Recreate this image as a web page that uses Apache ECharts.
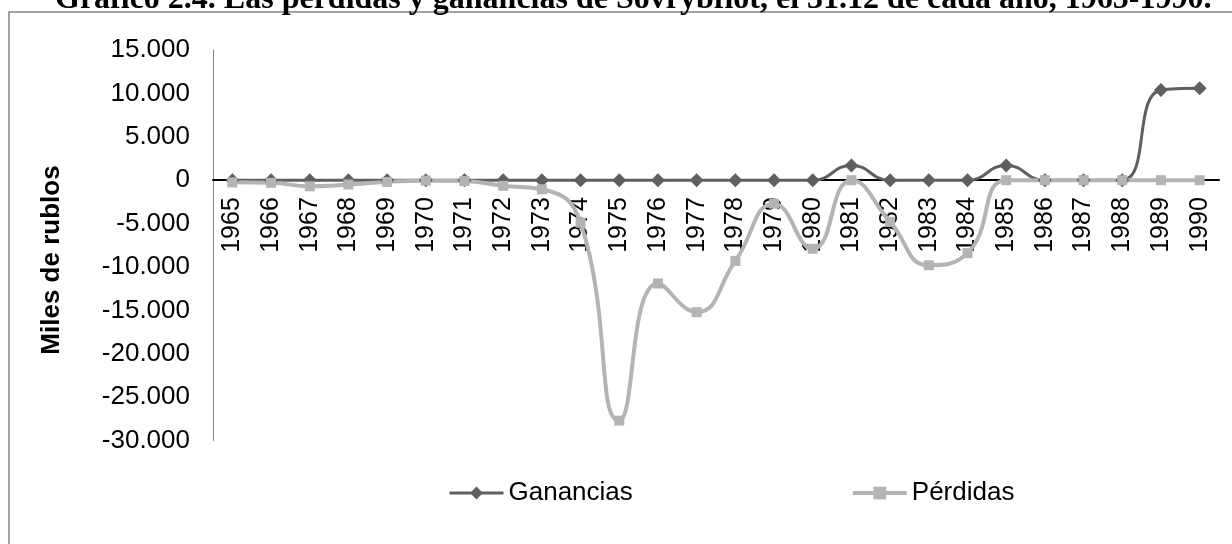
<!DOCTYPE html>
<html>
<head>
<meta charset="utf-8">
<title>Gráfico 2.4</title>
<script src="https://cdn.jsdelivr.net/npm/echarts@6/dist/echarts.min.js"></script>
<style>
    html, body { margin: 0; padding: 0; background: #fff; }
    #chart { width: 1232px; height: 544px; }
</style>
</head>
<body>
<div id="chart"></div>
<script>
// años (eje x)
var years = ["1965", "1966", "1967", "1968", "1969", "1970", "1971", "1972", "1973", "1974",
    "1975", "1976", "1977", "1978", "1979", "1980", "1981", "1982", "1983", "1984",
    "1985", "1986", "1987", "1988", "1989", "1990"];
// miles de rublos
var ganancias = [0, 0, 0, 0, 0, 0, 0, 0, 0, 0,
    0, 0, 0, 0, 0, 0, 1700, 0, 0, 0,
    1700, 0, 0, 0, 10400, 10600];
var perdidas = [-250, -300, -700, -500, -200, -50, -100, -650, -1050, -4900,
    -27700, -11900, -15200, -9300, -2700, -7900, 0, -4800, -9800, -8400,
    0, 0, 0, 0, 0, 0];
var yTicks = { min: -30000, max: 15000, step: 5000 };

var titleText = "Gráfico 2.4. Las pérdidas y ganancias de Sovrybflot, el 31.12 de cada año, 1965-1990.";
var seriesNames = ["Ganancias", "Pérdidas"];

var sans = "Liberation Sans";
var darkGray = "#5f5f5f", lightGray = "#b4b4b4";

// área de trazado
var plotTop = 50, plotBottom = 103.4, chartH = 544;
var plotH = chartH - plotTop - plotBottom;
// distancia del borde inferior a la línea del cero (el eje x va sobre el cero)
var zeroOffset = plotH * (0 - yTicks.min) / (yTicks.max - yTicks.min);

// 15000 -> "15.000"
function fmt(v) {
    var s = String(Math.abs(v)).replace(/\B(?=(\d{3})+(?!\d))/g, ".");
    return (v < 0 ? "-" : "") + s;
}

var chart = echarts.init(document.getElementById("chart"), null, { renderer: "canvas" });

var option = {
    backgroundColor: "#fff",
    animation: false,
    title: {
        text: titleText,
        left: 55,
        top: -16,
        padding: 0,
        textStyle: {
            fontFamily: "Liberation Serif",
            fontWeight: "bold",
            fontSize: 32,
            color: "#000"
        }
    },
    legend: {
        data: [
            { name: seriesNames[0], lineStyle: { width: 3, color: darkGray } },
            { name: seriesNames[1], lineStyle: { width: 4, color: lightGray } }
        ],
        left: 448,
        top: 480,
        padding: 0,
        itemWidth: 54,
        itemHeight: 16,
        itemGap: 218,
        textStyle: {
            fontFamily: sans,
            fontSize: 26,
            color: "#000"
        }
    },
    grid: {
        left: 213,
        right: 13,
        top: plotTop,
        bottom: plotBottom,
        containLabel: false
    },
    xAxis: {
        type: "category",
        data: years,
        boundaryGap: true,
        position: "bottom",
        offset: -zeroOffset,
        axisLine: {
            onZero: false,
            lineStyle: { color: "#000", width: 2 }
        },
        axisTick: { show: false },
        axisLabel: {
            rotate: 90,
            margin: 17,
            fontFamily: sans,
            fontSize: 25,
            color: "#000"
        },
        splitLine: { show: false }
    },
    yAxis: {
        type: "value",
        min: yTicks.min,
        max: yTicks.max,
        interval: yTicks.step,
        axisLine: {
            show: true,
            lineStyle: { color: "#868686", width: 1 }
        },
        axisTick: { show: false },
        axisLabel: {
            margin: 23,
            fontFamily: sans,
            fontSize: 26,
            color: "#000",
            formatter: fmt
        },
        splitLine: { show: false }
    },
    graphic: [{
        // marco del gráfico
        type: "rect",
        shape: { x: 9, y: 12, width: 1240, height: 600 },
        style: { fill: "none", stroke: "#868686", lineWidth: 1.5 },
        z: -1
    }, {
        type: "text",
        x: 52,
        y: 260,
        rotation: Math.PI / 2,
        style: {
            text: "Miles de rublos",
            fontFamily: sans,
            fontWeight: "bold",
            fontSize: 26,
            fill: "#000",
            align: "center",
            verticalAlign: "middle"
        }
    }],
    series: [{
        name: seriesNames[0],
        type: "line",
        data: ganancias,
        smooth: 0.5,
        symbol: "diamond",
        symbolSize: 14,
        showAllSymbol: true,
        color: darkGray,
        lineStyle: { color: darkGray, width: 3 },
        itemStyle: { color: darkGray }
    }, {
        name: seriesNames[1],
        type: "line",
        data: perdidas,
        smooth: 0.5,
        symbol: "rect",
        symbolSize: 10,
        showAllSymbol: true,
        color: lightGray,
        lineStyle: { color: lightGray, width: 4 },
        itemStyle: { color: lightGray }
    }]
};

chart.setOption(option);
</script>
</body>
</html>
